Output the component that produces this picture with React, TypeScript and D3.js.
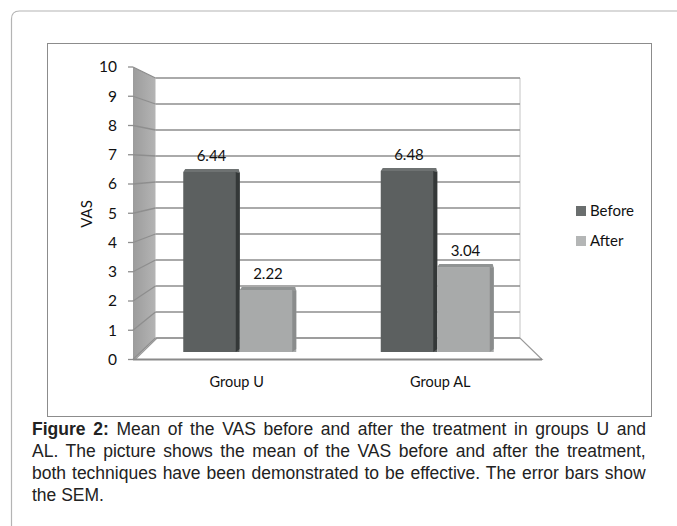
import React from 'react';
import * as d3 from 'd3';

// chart values
const groups = ['Group U', 'Group AL'];
const series = ['Before', 'After'];
const before = [6.44, 6.48];
const after = [2.22, 3.04];
const yTicks = [0, 1, 2, 3, 4, 5, 6, 7, 8, 9, 10];
const captionBold = 'Figure 2:';
const captionLines = [
  ' Mean of the VAS before and after the treatment in groups U and',
  'AL. The picture shows the mean of the VAS before and after the treatment,',
  'both techniques have been demonstrated to be effective. The error bars show',
  'the SEM.',
];

const W = 677;
const H = 526;
const FONT = 'Lato, "Open Sans", sans-serif';
const CAPTION_FONT = '"Liberation Sans", Arial, sans-serif';
const CAP_SIZE = 17.5;
const CAP_X = 32;
const CAP_W = 614;

const colors = {
  Before: { front: '#5c6060', side: '#343838', top: '#6e7272' },
  After: { front: '#a8aaaa', side: '#8a8c8c', top: '#909393' },
};

// word spacing needed to justify a line
function justify(text: string, bold = '') {
  const ctx = document.createElement('canvas').getContext('2d');
  if (!ctx) return 0;
  ctx.font = `${CAP_SIZE}px "Liberation Sans"`;
  let w = ctx.measureText(text).width;
  if (bold) {
    ctx.font = `bold ${CAP_SIZE}px "Liberation Sans"`;
    w += ctx.measureText(bold).width;
  }
  const gaps = ((bold + text).match(/ /g) || []).length;
  return (CAP_W - w) / gaps;
}

export default function App() {
  // 3d box: front plane, back plane, and the plane the bars stand in
  const yFront = d3.scaleLinear().domain([0, 10]).range([359.5, 67]);
  const yBack = d3.scaleLinear().domain([0, 10]).range([338, 78]);
  const yBar = d3.scaleLinear().domain([0, 10]).range([352, 72.5]);

  const xFront = d3.scaleBand().domain(groups).range([135, 542]);
  const xBar = d3.scaleBand().domain(groups).range([141, 536]);
  const xSeries = d3.scaleBand().domain(series).range([-56.5, 56.5]);

  const wallL = 133;
  const backL = 155.5;
  const backR = 520;
  const floorR = 542;

  const dx = 4;
  const dy = -3;

  const bars = groups.flatMap((g, i) => [
    { g, s: 'Before', v: before[i] },
    { g, s: 'After', v: after[i] },
  ]);

  return (
    <svg
      width={W}
      height={H}
      style={{ position: 'absolute', left: 0, top: 0, display: 'block', background: '#fff' }}
    >
      <defs>
        <linearGradient id="wall" x1="0" x2="1" y1="0" y2="0">
          <stop offset="0" stopColor="#9c9c9c" />
          <stop offset="1" stopColor="#b4b4b4" />
        </linearGradient>
      </defs>

      {/* outer frame */}
      <path d={`M11.5,${H} L11.5,19 Q11.5,11 19.5,11 L${W},11`} fill="none" stroke="#b4b4b4" strokeWidth={1.2} />
      {/* chart area */}
      <rect x={47.5} y={43.5} width={604} height={373} fill="#fff" stroke="#8c8c8c" strokeWidth={1} />

      {/* side wall */}
      <polygon
        points={`${wallL},${yFront(10)} ${backL},${yBack(10)} ${backL},${yBack(0)} ${wallL},${yFront(0)}`}
        fill="url(#wall)"
      />
      {/* floor */}
      <polygon
        points={`${135},${yFront(0)} ${floorR},${yFront(0)} ${backR},${yBack(0)} ${157},${yBack(0)}`}
        fill="#fff"
        stroke="#9a9a9a"
        strokeWidth={1.2}
      />
      {/* back wall right edge */}
      <line x1={backR} x2={backR} y1={yBack(10)} y2={yBack(0)} stroke="#c4c4c4" strokeWidth={1} />

      {/* gridlines */}
      {yTicks.map((t) => (
        <g key={t}>
          <line x1={backL} x2={backR} y1={yBack(t)} y2={yBack(t)} stroke="#8e8e8e" strokeWidth={1.3} />
          <line x1={wallL} x2={backL} y1={yFront(t)} y2={yBack(t)} stroke="#8e8e8e" strokeWidth={1.3} />
          <line x1={wallL - 5} x2={wallL} y1={yFront(t)} y2={yFront(t)} stroke="#8e8e8e" strokeWidth={1.3} />
          <text x={117} y={yFront(t)} dy="0.35em" textAnchor="end" fontFamily={FONT} fontSize={15.5} fill="#111">
            {t}
          </text>
        </g>
      ))}
      {/* x axis front edge */}
      <line x1={wallL} x2={floorR} y1={yFront(0)} y2={yFront(0)} stroke="#8a8a8a" strokeWidth={2} />

      {/* bars */}
      {bars.map((b) => {
        const c = colors[b.s as 'Before' | 'After'];
        const x0 = (xBar(b.g) as number) + xBar.bandwidth() / 2 + (xSeries(b.s) as number);
        const x1 = x0 + xSeries.bandwidth();
        const yt = yBar(b.v);
        const yb = yBar(0);
        return (
          <g key={b.g + b.s}>
            <rect x={x0} y={yt} width={x1 - x0} height={yb - yt} fill={c.front} />
            <polygon points={`${x1 - dx},${yt} ${x1},${yt + 1} ${x1},${yb - 3} ${x1 - dx},${yb}`} fill={c.side} />
            <polygon points={`${x0},${yt} ${x0 + 2},${yt + dy} ${x1 - 1},${yt + dy} ${x1},${yt + 1} ${x1 - dx},${yt}`} fill={c.top} />
            <text
              x={(x0 + x1) / 2}
              y={yt - 16}
              dy="0.35em"
              textAnchor="middle"
              fontFamily={FONT}
              fontSize={15}
              fill="#111"
            >
              {b.v.toFixed(2)}
            </text>
          </g>
        );
      })}

      {/* category labels */}
      {groups.map((g) => (
        <text
          key={g}
          x={(xFront(g) as number) + xFront.bandwidth() / 2}
          y={382}
          dy="0.35em"
          textAnchor="middle"
          fontFamily={FONT}
          fontSize={14.5}
          fill="#111"
        >
          {g}
        </text>
      ))}

      {/* y axis title */}
      <text
        transform="translate(87,214) rotate(-90)"
        textAnchor="middle"
        dy="0.35em"
        fontFamily={FONT}
        fontSize={15}
        fill="#111"
      >
        VAS
      </text>

      {/* legend */}
      {series.map((s, i) => (
        <g key={s} transform={`translate(576,${206 + i * 30})`}>
          <rect width={10} height={10} fill={s === 'Before' ? '#6a6e6e' : '#b4b6b6'} />
          <text x={14} y={5} dy="0.35em" fontFamily={FONT} fontSize={15} fill="#111">
            {s}
          </text>
        </g>
      ))}

      {/* caption, justified like the journal page */}
      {captionLines.map((l, i) => {
        const last = i === captionLines.length - 1;
        const ws = last ? 0 : justify(l, i === 0 ? captionBold : '');
        return (
          <text
            key={i}
            x={CAP_X}
            y={435 + i * 22}
            fontFamily={CAPTION_FONT}
            fontSize={CAP_SIZE}
            fill="#222"
            wordSpacing={ws}
            style={{ whiteSpace: 'pre' }}
          >
            {i === 0 && <tspan fontWeight="bold">{captionBold}</tspan>}
            {l}
          </text>
        );
      })}
    </svg>
  );
}
